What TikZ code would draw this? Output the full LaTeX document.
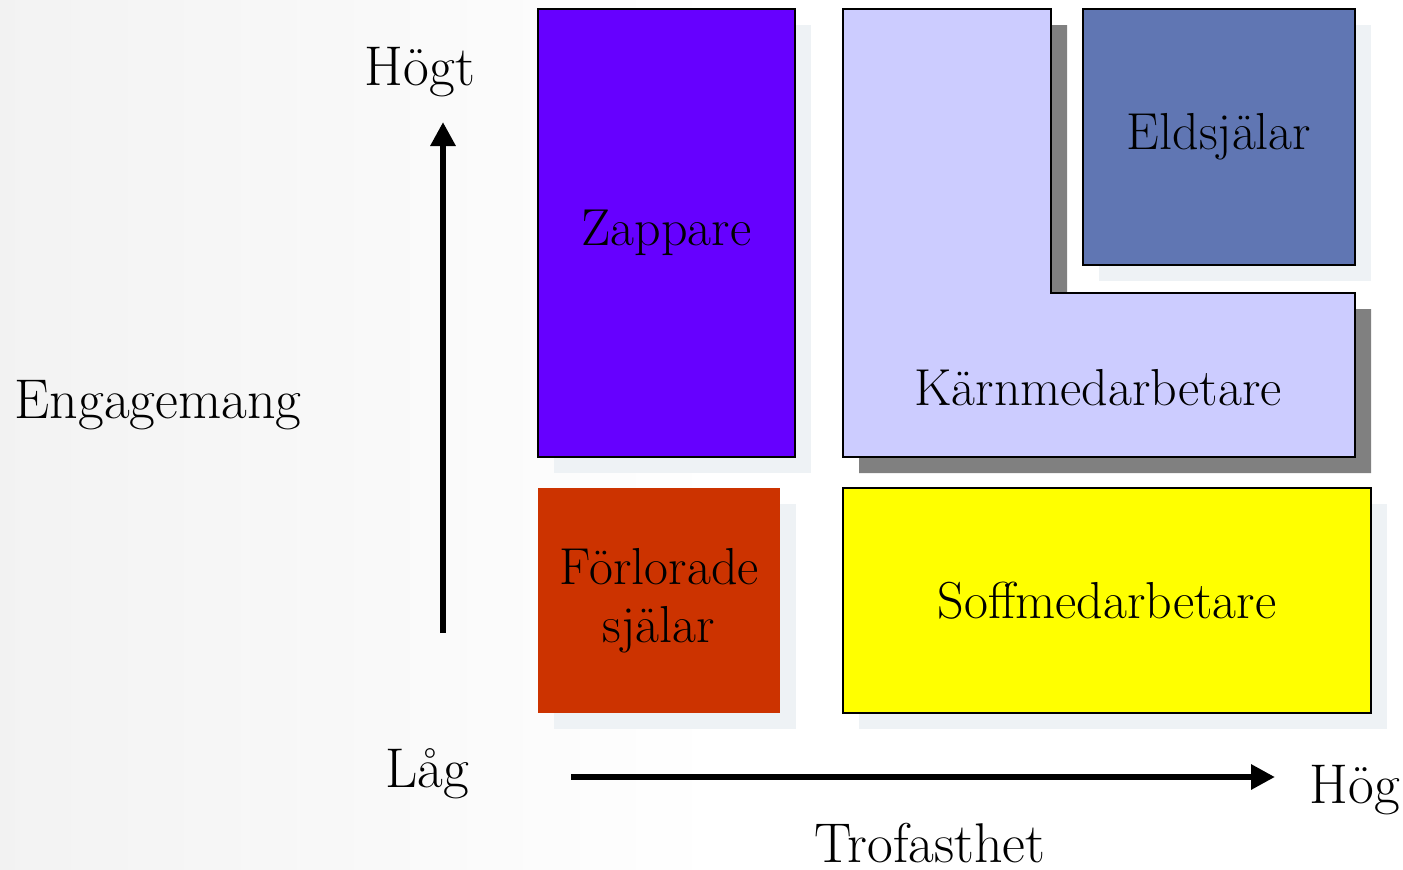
\documentclass[tikz,border=0pt]{standalone}
\usepackage{fontspec}
\usetikzlibrary{positioning,shadows,arrows.meta}

\definecolor{zapviolet}{HTML}{6600FF}
\definecolor{corelilac}{HTML}{CCCCFF}
\definecolor{fireblue}{HTML}{6076B3}
\definecolor{lostred}{HTML}{CC3300}
\definecolor{sofayellow}{HTML}{FFFF00}
\definecolor{paleshade}{HTML}{EEF2F5}
\definecolor{darkshade}{HTML}{808080}

\begin{document}
\begin{tikzpicture}[x=1pt,y=-1pt]
                        \tikzstyle{every node}=[inner sep=0]
                        \tikzstyle{box}=[rectangle,draw=black,line width=2.5,align=center,font=\fontsize{52}{58}\selectfont]
                        \tikzstyle{axislabel}=[anchor=base,font=\fontsize{56}{60}\selectfont]
                        \tikzstyle{paleshadow}=[drop shadow={shadow xshift=16pt,shadow yshift=-16pt,fill=paleshade,opacity=1}]
                        \tikzstyle{darkshadow}=[drop shadow={shadow xshift=16pt,shadow yshift=-16pt,fill=darkshade,opacity=1}]
                        \tikzstyle{axis}=[line width=6,-{Triangle[length=24pt,width=24pt]}]
                        {
                            \useasboundingbox (0,0) rectangle (1403,870);
                            \shade[left color=black!5,right color=white] (0,0) rectangle (720,870);

                            % boxes
                            \node[box,paleshadow,fill=zapviolet,minimum width=257,minimum height=448] (zap) at (666.5,233) {Zappare};
                            \filldraw[fill=corelilac,draw=black,line width=2.5,darkshadow]
                                (843,9) -- (1051,9) -- (1051,293) -- (1355,293) -- (1355,457) -- (843,457) -- cycle;
                            \node[anchor=base,font=\fontsize{52}{58}\selectfont] (core) at (1098,405) {Kärnmedarbetare};
                            \node[box,paleshadow,fill=fireblue,minimum width=272,minimum height=256] (fire) at (1219,137) {Eldsjälar};
                            \node[box,paleshadow,fill=lostred,draw=none,minimum width=242,minimum height=225] (lost) at (659,600.5) {Förlorade\\själar};
                            \node[box,paleshadow,fill=sofayellow,minimum width=528,minimum height=225] (sofa) at (1107,600.5) {Soffmedarbetare};

                            % axes
                            \coordinate (ybot) at (443,633);
                            \coordinate (ytop) at (443,122);
                            \coordinate (xleft) at (571,777);
                            \coordinate (xright) at (1275,777);
                            \draw[axis] (ybot) -- (ytop);
                            \draw[axis] (xleft) -- (xright);

                            \node[axislabel] (high) at (420,85) {Högt};
                            \node[axislabel] (eng) at (158,418) {Engagemang};
                            \node[axislabel] (low) at (427,787) {Låg};
                            \node[axislabel] (hog) at (1355,803) {Hög};
                            \node[axislabel] (trof) at (930,862) {Trofasthet};
                        }
                    \end{tikzpicture}
\end{document}
